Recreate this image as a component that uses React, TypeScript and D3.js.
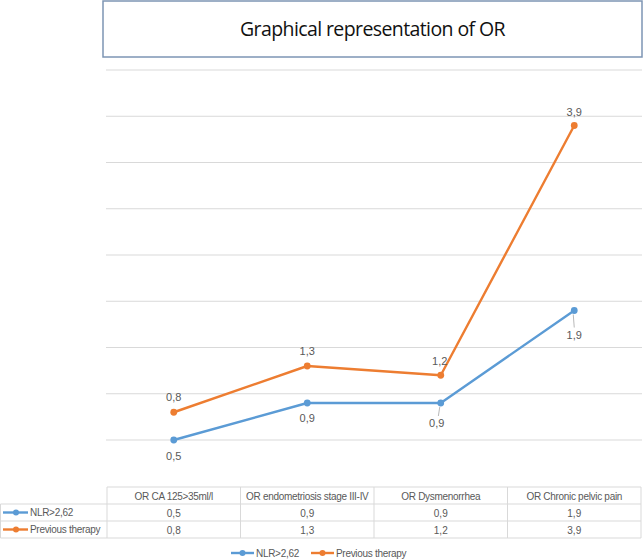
import React from 'react';
import * as d3 from 'd3';

const categories = [
  'OR CA 125>35ml/l',
  'OR endometriosis stage III-IV',
  'OR Dysmenorrhea',
  'OR Chronic pelvic pain',
];
const nlrValues = [0.5, 0.9, 0.9, 1.9];
const therapyValues = [0.8, 1.3, 1.2, 3.9];
const seriesNames = ['NLR>2,62', 'Previous therapy'];
const yTicks = [0.5, 1, 1.5, 2, 2.5, 3, 3.5, 4, 4.5];

const W = 644;
const H = 559;
const FONT = 'Liberation Sans, Arial, sans-serif';
const TEXT = '#595959';
const GRID = '#d9d9d9';
const colors = ['#5B9BD5', '#ED7D31'];

// label offsets (dx, dy from the point), per series / per point
const labelOffsets = [
  [[0, 20], [0, 19], [-4, 24], [0, 28]],
  [[0, -11], [0, -11], [-1, -10], [0, -10]],
];

const fmt = (v: number) => v.toFixed(1).replace('.', ',');

export default function App() {
  const plot = { left: 107, right: 641, top: 70, bottom: 440 };

  const x = d3
    .scalePoint<string>()
    .domain(categories)
    .range([plot.left, plot.right])
    .padding(0.5);
  const y = d3.scaleLinear().domain([0.5, 4.5]).range([plot.bottom, plot.top]);

  const line = d3
    .line<number>()
    .x((d, i) => x(categories[i]) as number)
    .y((d) => y(d));

  const series = [nlrValues, therapyValues];

  // table geometry
  const tTop = 487;
  const rowH = 17;
  const colW = (plot.right - plot.left) / categories.length;

  return (
    <svg
      width={W}
      height={H}
      style={{ position: 'absolute', left: 0, top: 0, background: '#fff' }}
      fontFamily={FONT}
    >
      {/* title box */}
      <rect x={103} y={1} width={539} height={56} fill="#fff" stroke="#7d95b4" strokeWidth={1.5} />
      <text x={372.5} y={36} textAnchor="middle" fontSize={19.5} fill="#111" style={{ fontFamily: 'Open Sans, sans-serif' }} letterSpacing={-0.6}>
        Graphical representation of OR
      </text>

      {/* gridlines */}
      <g>
        {yTicks.map((t) => (
          <line key={t} x1={plot.left - 1} x2={plot.right + 1} y1={y(t)} y2={y(t)} stroke={GRID} strokeWidth={1} />
        ))}
      </g>

      {/* lines */}
      {series.map((vals, si) => (
        <g key={si}>
          <path d={line(vals) as string} fill="none" stroke={colors[si]} strokeWidth={2.4} strokeLinejoin="round" />
          {vals.map((v, i) => (
            <circle key={i} cx={x(categories[i])} cy={y(v)} r={3.4} fill={colors[si]} />
          ))}
        </g>
      ))}

      {/* data labels */}
      {series.map((vals, si) =>
        vals.map((v, i) => {
          const cx = x(categories[i]) as number;
          const cy = y(v);
          const [dx, dy] = labelOffsets[si][i];
          const leader = si === 0 && dy > 20;
          return (
            <g key={`${si}-${i}`}>
              {leader && (
                <line x1={cx - 1} y1={cy + 4} x2={cx + dx * 0.6} y2={cy + dy - 11} stroke="#a6a6a6" strokeWidth={0.8} />
              )}
              <text x={cx + dx} y={cy + dy} textAnchor="middle" fontSize={11} fill={TEXT}>
                {fmt(v)}
              </text>
            </g>
          );
        })
      )}

      {/* data table */}
      <g stroke={GRID} strokeWidth={1} fill="none">
        <line x1={plot.left} x2={plot.right} y1={tTop} y2={tTop} />
        <line x1={0.5} x2={plot.right} y1={tTop + rowH} y2={tTop + rowH} />
        <line x1={0.5} x2={plot.right} y1={tTop + rowH * 2} y2={tTop + rowH * 2} />
        <line x1={0.5} x2={plot.right} y1={tTop + rowH * 3} y2={tTop + rowH * 3} />
        <line x1={0.5} x2={0.5} y1={tTop + rowH} y2={tTop + rowH * 3} />
        {d3.range(categories.length + 1).map((k) => (
          <line key={k} x1={plot.left + k * colW} x2={plot.left + k * colW} y1={tTop} y2={tTop + rowH * 3} />
        ))}
      </g>
      <g fontSize={10} fill={TEXT} textAnchor="middle">
        {categories.map((c) => (
          <text key={c} x={x(c)} y={tTop + 12.5} letterSpacing={-0.3}>
            {c}
          </text>
        ))}
        {series.map((vals, si) =>
          vals.map((v, i) => (
            <text key={`${si}-${i}`} x={x(categories[i])} y={tTop + rowH * (si + 1) + 12.5}>
              {fmt(v)}
            </text>
          ))
        )}
      </g>
      {seriesNames.map((name, si) => {
        const ry = tTop + rowH * (si + 1) + rowH / 2;
        return (
          <g key={name}>
            <line x1={3} x2={28} y1={ry} y2={ry} stroke={colors[si]} strokeWidth={2.4} />
            <circle cx={16} cy={ry} r={3} fill={colors[si]} />
            <text x={30} y={ry + 3.5} fontSize={10} fill={TEXT} letterSpacing={-0.3}>
              {name}
            </text>
          </g>
        );
      })}

      {/* legend */}
      {seriesNames.map((name, si) => {
        const lx = si === 0 ? 231 : 311;
        const ly = 553;
        return (
          <g key={`leg-${name}`}>
            <line x1={lx} x2={lx + 23} y1={ly} y2={ly} stroke={colors[si]} strokeWidth={2.4} />
            <circle cx={lx + 11.5} cy={ly} r={3} fill={colors[si]} />
            <text x={lx + 25} y={ly + 3.5} fontSize={10} fill={TEXT} letterSpacing={-0.3}>
              {name}
            </text>
          </g>
        );
      })}
    </svg>
  );
}
